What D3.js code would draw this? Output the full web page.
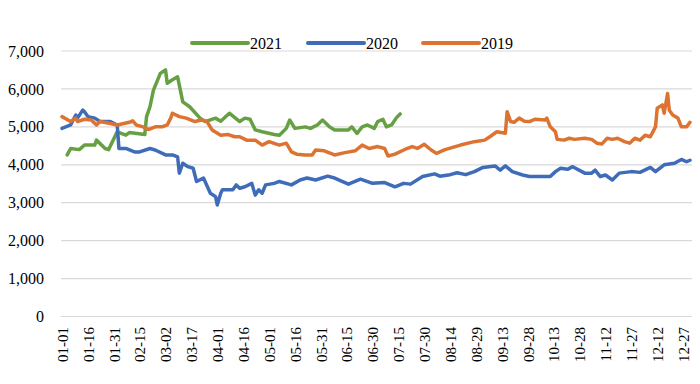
<html>
<head>
    <script src="https://d3js.org/d3.v7.min.js"></script>
    <style>
        body { margin: 0; background: #fff; }
        text { font-family: "Liberation Serif", "Times New Roman", serif; fill: #000; }
    </style>
</head>
<body>
<div id="chart"></div>
<script>
    // tick labels on the x axis (every 15 days)
    var tickLabels = ["01-01","01-16","01-31","02-15","03-02","03-17","04-01","04-16","05-01","05-16","05-31","06-15",
        "06-30","07-15","07-30","08-14","08-29","09-13","09-28","10-13","10-28","11-12","11-27","12-12","12-27"];
    var yTicks = [0, 1000, 2000, 3000, 4000, 5000, 6000, 7000];
    var seriesNames = ["2021", "2020", "2019"];

    // 2021
    var dates2021 = ["01-04","01-06","01-11","01-14","01-20","01-21","01-26","01-28","02-02","02-07","02-09","02-18",
        "02-19","02-21","02-23","02-27","03-02","03-03","03-06","03-09","03-12","03-16","03-22","03-25","03-31","04-03",
        "04-08","04-14","04-17","04-20","04-23","04-27","05-04","05-07","05-11","05-13","05-16","05-22","05-25","05-29",
        "06-01","06-05","06-08","06-16","06-18","06-21","06-24","06-27","07-01","07-03","07-06","07-08","07-11","07-14","07-16"];
    var values2021 = [4260,4430,4400,4520,4520,4650,4430,4400,4870,4780,4850,4800,
        5270,5530,5970,6410,6500,6150,6240,6320,5660,5530,5230,5140,5230,5150,
        5360,5140,5230,5200,4920,4870,4800,4780,4960,5180,4960,5000,4960,5050,
        5180,5000,4920,4920,5000,4830,5000,5050,4960,5140,5200,5000,5050,5250,5340];

    // 2020
    var dates2020 = ["01-01","01-06","01-07","01-09","01-10","01-13","01-14","01-16","01-20","01-23","01-29","02-02",
        "02-03","02-07","02-12","02-15","02-21","02-24","03-02","03-06","03-09","03-10","03-12","03-15","03-18","03-20",
        "03-24","03-28","03-31","04-01","04-03","04-04","04-10","04-12","04-14","04-17","04-21","04-23","04-25","04-27",
        "04-29","05-04","05-07","05-14","05-19","05-23","05-28","06-04","06-08","06-16","06-23","06-30","07-07","07-13",
        "07-18","07-22","07-29","08-05","08-08","08-14","08-18","08-23","08-28","09-02","09-09","09-12","09-15","09-19",
        "09-25","09-29","10-11","10-14","10-17","10-21","10-24","10-31","11-04","11-06","11-09","11-12","11-16","11-20",
        "11-27","12-02","12-08","12-11","12-16","12-22","12-26","12-29","12-31"];
    var values2020 = [4960,5050,5140,5310,5230,5440,5400,5270,5230,5140,5140,5050,
        4430,4430,4340,4340,4430,4390,4260,4260,4210,3780,4040,3950,3910,3560,
        3650,3250,3160,2940,3250,3340,3340,3470,3380,3420,3510,3200,3340,3250,
        3470,3510,3560,3470,3600,3650,3600,3700,3650,3490,3620,3510,3530,3420,
        3510,3490,3690,3760,3700,3740,3790,3740,3820,3930,3970,3860,3970,3820,
        3730,3690,3690,3820,3910,3880,3950,3780,3780,3860,3690,3730,3600,3780,
        3820,3800,3930,3820,4000,4040,4140,4080,4120];

    // 2019
    var dates2019 = ["01-01","01-06","01-09","01-10","01-14","01-18","01-21","01-23","01-29","02-02","02-09","02-11",
        "02-13","02-17","02-20","02-24","02-28","03-03","03-05","03-06","03-10","03-14","03-19","03-23","03-26","03-29",
        "04-03","04-07","04-11","04-14","04-18","04-23","04-27","05-01","05-07","05-11","05-14","05-17","05-22","05-26",
        "05-28","06-02","06-08","06-14","06-20","06-24","06-28","07-03","07-07","07-09","07-13","07-19","07-23","07-26",
        "07-30","08-03","08-06","08-11","08-20","08-28","09-03","09-06","09-10","09-15","09-16","09-18","09-20","09-23",
        "09-26","09-29","10-02","10-08","10-09","10-11","10-14","10-15","10-19","10-22","10-25","10-31","11-04","11-07",
        "11-10","11-13","11-16","11-19","11-23","11-26","11-29","12-02","12-05","12-08","12-11","12-12","12-15","12-16",
        "12-18","12-19","12-21","12-24","12-26","12-29","12-31"];
    var values2019 = [5270,5140,5230,5140,5200,5180,5050,5140,5090,5050,5120,5160,
        5050,5000,4930,5000,5000,5050,5230,5360,5270,5230,5140,5180,5140,4920,
        4780,4800,4740,4740,4650,4650,4520,4610,4520,4570,4340,4280,4260,4260,
        4390,4370,4260,4320,4370,4520,4430,4480,4430,4230,4280,4410,4480,4430,
        4540,4390,4300,4400,4520,4610,4650,4740,4870,4830,5400,5140,5120,5230,
        5150,5140,5200,5180,5230,5000,4870,4670,4650,4700,4670,4700,4670,4570,
        4550,4700,4670,4700,4610,4570,4700,4650,4780,4740,5000,5490,5580,5360,
        5880,5440,5310,5230,5000,5000,5120];

    var colors = ["#66a043", "#3f6cb8", "#dd7331"];

    var width = 700, height = 384;
    var svg = d3.select("#chart")
        .append("svg")
        .attr("width", width)
        .attr("height", height);

    var parse = d3.timeParse("%m-%d");

    var x = d3.scaleTime()
        .domain([parse("01-01"), parse("12-31")])
        .range([62, 690]);

    var y = d3.scaleLinear()
        .domain([0, 7000])
        .range([316.5, 51]);

    /* gridlines */
    svg.append("g")
        .selectAll("line")
        .data(yTicks)
        .enter()
        .append("line")
        .attr("x1", 61)
        .attr("x2", 692)
        .attr("y1", function(d){ return y(d) })
        .attr("y2", function(d){ return y(d) })
        .attr("stroke", "#d9d9d9")
        .attr("stroke-width", 1.2);

    /* y axis labels */
    var yAxis = d3.axisLeft(y)
        .tickValues(yTicks)
        .tickSize(0)
        .tickPadding(0)
        .tickFormat(d3.format(","));
    svg.append("g")
        .attr("transform", "translate(44,0)")
        .call(yAxis)
        .call(function(g){ g.select(".domain").remove() })
        .selectAll("text")
        .style("font-size", "16px")
        .style("font-family", "Liberation Serif");

    /* x axis labels, rotated */
    var xAxis = d3.axisBottom(x)
        .tickValues(tickLabels.map(parse))
        .tickSize(0)
        .tickPadding(0)
        .tickFormat(d3.timeFormat("%m-%d"));
    svg.append("g")
        .attr("transform", "translate(0,327)")
        .call(xAxis)
        .call(function(g){ g.select(".domain").remove() })
        .selectAll("text")
        .style("font-size", "15px")
        .style("font-family", "Liberation Serif")
        .attr("text-anchor", "end")
        .attr("dy", "0.35em")
        .attr("transform", "rotate(-90)");

    /* lines */
    var line = d3.line()
        .x(function(d){ return x(parse(d[0])) })
        .y(function(d){ return y(d[1]) });

    var allData = [
        d3.zip(dates2021, values2021),
        d3.zip(dates2020, values2020),
        d3.zip(dates2019, values2019)
    ];

    svg.append("g")
        .selectAll("path")
        .data(allData)
        .enter()
        .append("path")
        .attr("d", line)
        .attr("fill", "none")
        .attr("stroke", function(d, i){ return colors[i] })
        .attr("stroke-width", 3.5)
        .attr("stroke-linejoin", "round")
        .attr("stroke-linecap", "round");

    /* legend */
    var legendX = [192, 308, 423];
    var legend = svg.append("g")
        .selectAll("g")
        .data(seriesNames)
        .enter()
        .append("g")
        .attr("transform", function(d, i){ return "translate(" + legendX[i] + ",43)" });

    legend.append("line")
        .attr("x1", 0)
        .attr("x2", 56)
        .attr("stroke", function(d, i){ return colors[i] })
        .attr("stroke-width", 4)
        .attr("stroke-linecap", "round");

    legend.append("text")
        .attr("x", 58)
        .attr("dy", "0.35em")
        .style("font-size", "16px")
        .text(function(d){ return d });
</script>
</body>
</html>
